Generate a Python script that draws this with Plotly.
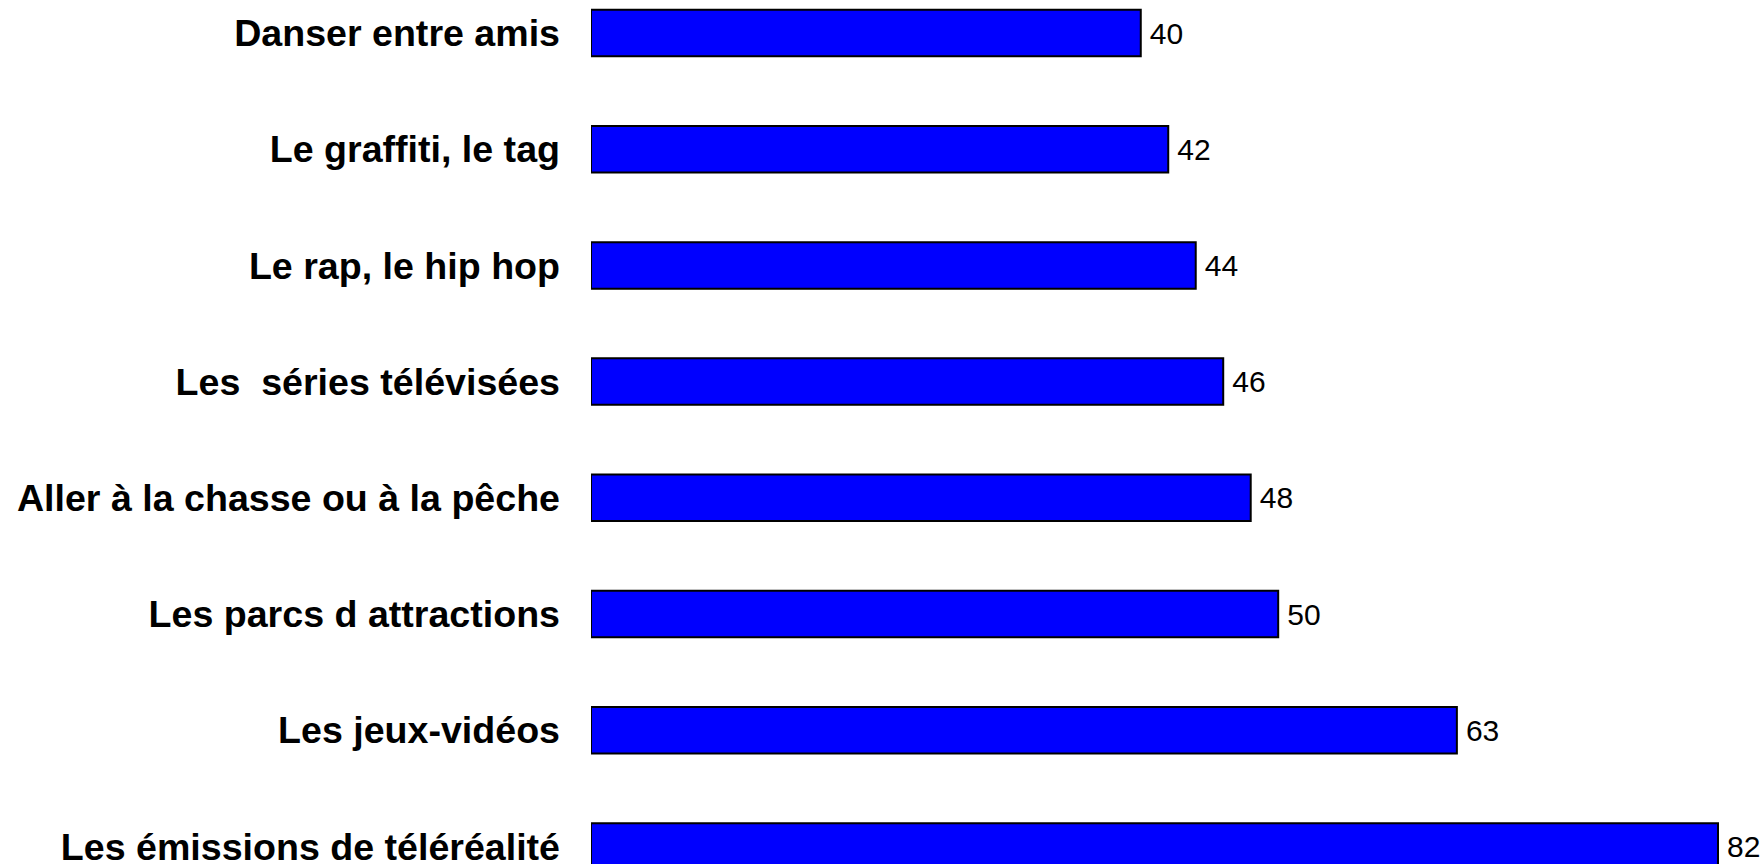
import plotly.graph_objects as go

categories = [
    "Danser entre amis",
    "Le graffiti, le tag",
    "Le rap, le hip hop",
    "Les  séries télévisées",
    "Aller à la chasse ou à la pêche",
    "Les parcs d attractions",
    "Les jeux-vidéos",
    "Les émissions de téléréalité",
]
values = [40, 42, 44, 46, 48, 50, 63, 82]

W, H = 1764, 864
ML, MR = 591, 10
px_per_unit = (1718 - 591) / 82
xmax = (W - ML - MR) / px_per_unit
step = 116.2
top_center = 33
ytop = -top_center / step
ybot = (H - top_center) / step

fig = go.Figure(go.Bar(
    x=values,
    y=categories,
    orientation="h",
    width=0.4,
    marker=dict(color="#0000FF", line=dict(color="black", width=2)),
    text=values,
    texttemplate="\u2009%{x}",
    textposition="outside",
    textfont=dict(family="Liberation Sans, Arial, sans-serif", size=30, color="black"),
    cliponaxis=False,
    hoverinfo="skip",
))

fig.update_layout(
    width=W, height=H,
    margin=dict(l=ML, r=MR, t=0, b=0, pad=0),
    paper_bgcolor="white",
    plot_bgcolor="white",
    showlegend=False,
    font=dict(family="Liberation Sans, Arial, sans-serif", color="black"),
    xaxis=dict(range=[0, xmax], visible=False, automargin=False, showgrid=False, zeroline=False),
    yaxis=dict(
        type="category",
        categoryorder="array",
        categoryarray=categories,
        range=[ybot, ytop],
        automargin=False,
        showgrid=False,
        zeroline=False,
        showline=False,
        ticks="",
        ticklabelstandoff=30,
        tickfont=dict(family="Liberation Sans, Arial, sans-serif", size=37.6, color="black", weight="bold"),
    ),
)

fig.write_html(
    "out.html",
    config={"displayModeBar": False, "staticPlot": True},
    post_script="document.body.style.margin='0px';document.body.style.overflow='hidden';",
)
